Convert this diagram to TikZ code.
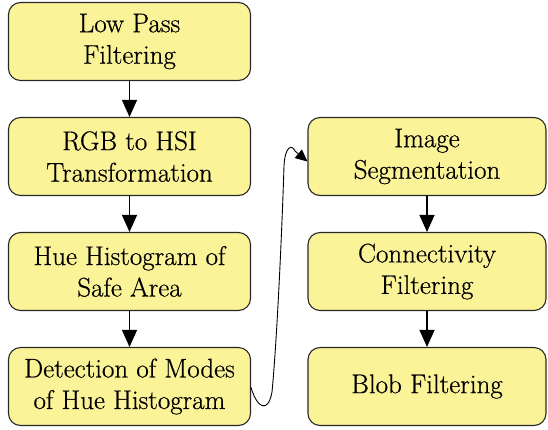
\documentclass[tikz,border=0pt]{standalone}
\usepackage{fontspec}
\newfontfamily\boxfont[FakeBold=0.5]{Latin Modern Roman}
\usetikzlibrary{arrows.meta}
\definecolor{boxfill}{RGB}{251,243,152}
\definecolor{boxline}{RGB}{40,40,40}
\tikzset{
  procbox/.style={draw=boxline, line width=1.1pt, fill=boxfill, rounded corners=12pt,
    minimum height=78pt, align=center, inner sep=0pt,
    font=\boxfont\fontsize{27}{31.5}\selectfont},
  leftbox/.style={procbox, minimum width=242pt},
  rightbox/.style={procbox, minimum width=238pt},
  flow/.style={line width=1.2pt, -{Triangle[width=15pt,length=17pt]}},
  loopline/.style={line width=0.9pt, -{Triangle[width=11pt,length=12pt]}}
}
\begin{document}
\begin{tikzpicture}[x=1pt,y=-1pt]
\useasboundingbox (0,0) rectangle (548,429);
\node[leftbox] (lp) at (129.5,41.5) {Low Pass\\Filtering};
\node[leftbox] (rgb) at (129.5,156.5) {RGB to HSI\\Transformation};
\node[leftbox] (hue) at (129.5,271.5) {Hue Histogram of\\Safe Area};
\node[leftbox] (det) at (129.5,386.5) {Detection of Modes\\of Hue Histogram};
\node[rightbox] (seg) at (427,156.5) {Image\\Segmentation};
\node[rightbox] (con) at (427,271.5) {Connectivity\\Filtering};
\node[rightbox] (blob) at (427,386.5) {Blob Filtering};
\draw[flow] (lp) -- (rgb);
\draw[flow] (rgb) -- (hue);
\draw[flow] (hue) -- (det);
\draw[flow] (seg) -- (con);
\draw[flow] (con) -- (blob);
\coordinate (c1) at (272,392);
\coordinate (c2) at (284,166);
\coordinate (c3) at (295,151);
\draw[loopline] ([yshift=-1pt]det.east) .. controls (257,408) and (268,414) .. (c1)
  .. controls (277,340) and (282,230) .. (c2)
  .. controls (285,146) and (292,144) .. (c3)
  -- ([yshift=-5pt]seg.west);
\end{tikzpicture}
\end{document}
